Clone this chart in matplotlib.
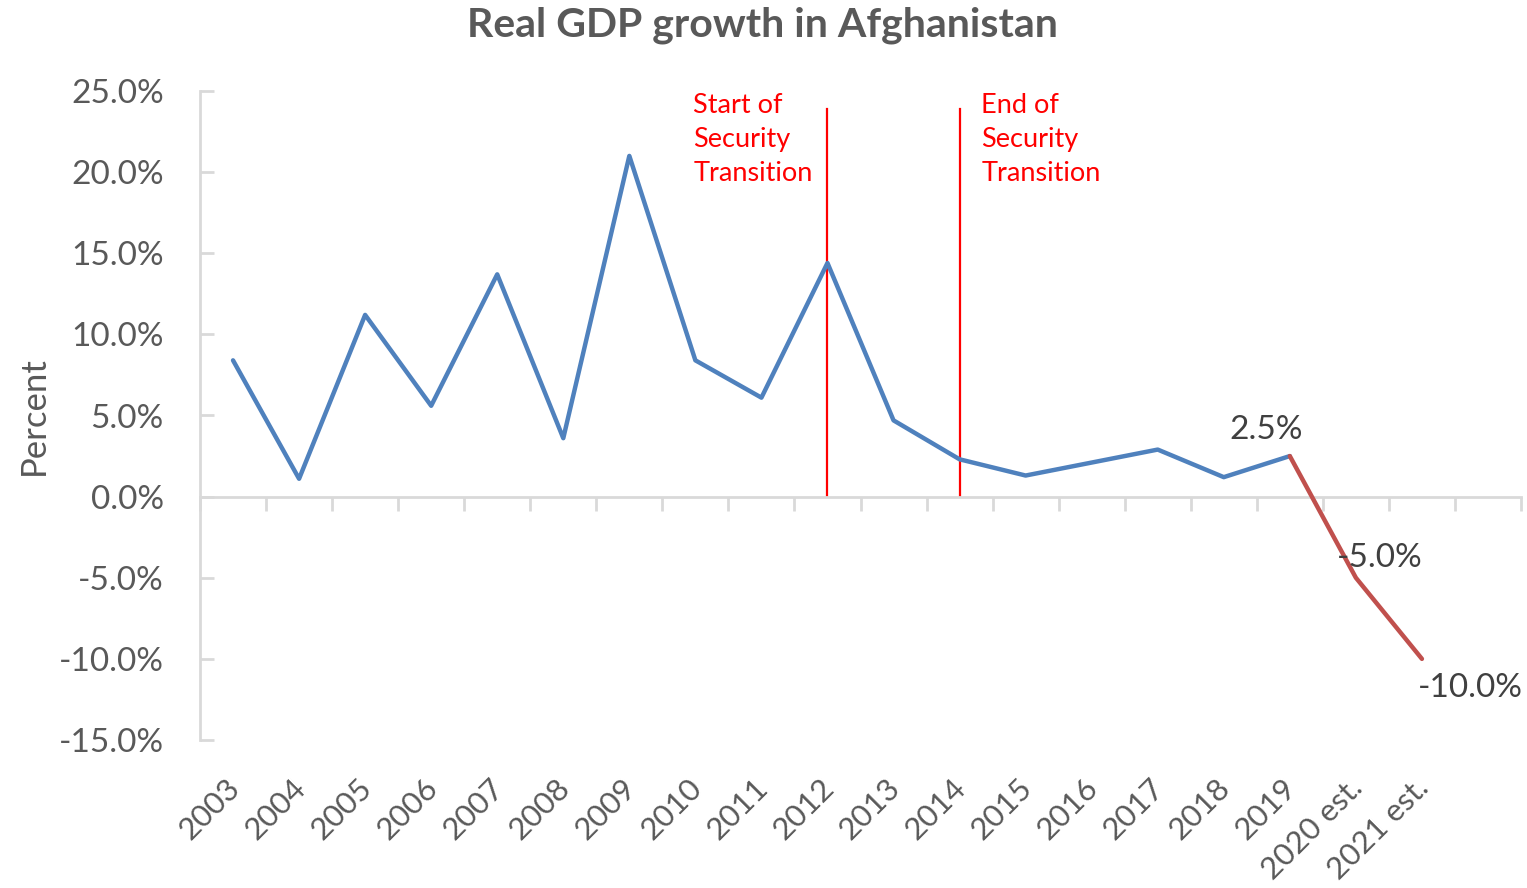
import matplotlib.pyplot as plt
import matplotlib.transforms as mtransforms

plt.rcParams['font.family'] = ['Lato', 'DejaVu Sans']

# data
years = ['2003', '2004', '2005', '2006', '2007', '2008', '2009', '2010', '2011',
         '2012', '2013', '2014', '2015', '2016', '2017', '2018', '2019',
         '2020 est.', '2021 est.']
growth = [8.4, 1.1, 11.2, 5.6, 13.7, 3.6, 21.0, 8.4, 6.1,
          14.4, 4.7, 2.3, 1.3, 2.1, 2.9, 1.2, 2.5]
est_years = ['2019', '2020 est.', '2021 est.']
est_growth = [2.5, -5.0, -10.0]
y_ticks = [-15, -10, -5, 0, 5, 10, 15, 20, 25]

transition_years = ['2012', '2014']
transition_labels = ['Start of\nSecurity\nTransition', 'End of\nSecurity\nTransition']
line_span = [0.1, 23.9]

blue = '#4F81BD'
red = '#C0504D'
grey = '#595959'
axis_grey = '#D9D9D9'

fig = plt.figure(figsize=(15.27, 8.88), dpi=100)
ax = fig.add_axes([200 / 1527, 1 - 740 / 888, 1321 / 1527, 649 / 888])

pos = {y: i for i, y in enumerate(years)}
ax.plot([pos[y] for y in years[:len(growth)]], growth, color=blue, lw=3.2,
        solid_joinstyle='round', solid_capstyle='round', zorder=3)
ax.plot([pos[y] for y in est_years], est_growth, color=red, lw=3.2,
        solid_joinstyle='round', solid_capstyle='round', zorder=3)

# data labels
offsets = [(-17, 19), (17, 14), (35, -21)]
for y, v, off in zip(est_years, est_growth, offsets):
    ax.annotate(f'{v:.1f}%', (pos[y], v), xytext=off, textcoords='offset points',
                ha='center', va='center', fontsize=24, color='#404040', zorder=4)

# security transition markers
for y in transition_years:
    x = pos[y]
    ax.plot([x, x], line_span, color='red', lw=1.6, zorder=2)
ax.text(pos['2012'] - 2.03, 24.9, transition_labels[0], color='red', fontsize=19.5,
        va='top', ha='left', linespacing=1.45)
ax.text(pos['2014'] + 0.33, 24.9, transition_labels[1], color='red', fontsize=19.5,
        va='top', ha='left', linespacing=1.45)

ax.set_xlim(-0.5, len(years) + 0.5)
ax.set_ylim(-15, 25)
ax.set_yticks(y_ticks)
ax.set_yticklabels([f'{t:.1f}%' for t in y_ticks])
ax.set_xticks(range(len(years)))
ax.set_xticklabels(years, rotation=45, ha='right', va='top', rotation_mode='anchor')
ax.tick_params(axis='x', length=0, pad=24, labelsize=22.5, labelcolor=grey)
shift = mtransforms.ScaledTranslation(-8 / 100, 0, fig.dpi_scale_trans)
for lbl in ax.get_xticklabels():
    lbl.set_transform(lbl.get_transform() + shift)
ax.tick_params(axis='y', length=10, width=2, color=axis_grey, direction='in',
               labelsize=24, labelcolor=grey, pad=26)

for s in ['top', 'right', 'bottom']:
    ax.spines[s].set_visible(False)
ax.spines['left'].set_color(axis_grey)
ax.spines['left'].set_linewidth(2)

# category axis drawn at zero with ticks between categories
zero_frac = (0 - y_ticks[0]) / (y_ticks[-1] - y_ticks[0])
cat_axis = ax.secondary_xaxis(zero_frac)
cat_axis.set_xticks([i - 0.5 for i in range(len(years) + 2)])
cat_axis.tick_params(length=10, width=2, color=axis_grey, direction='out',
                     labelbottom=False)
cat_axis.spines['bottom'].set_color(axis_grey)
cat_axis.spines['bottom'].set_linewidth(2)

ax.set_ylabel('Percent', fontsize=25, color=grey)
ax.yaxis.set_label_coords(-0.114, 0.5)
fig.text(762 / 1527, 1 - 25 / 888, 'Real GDP growth in Afghanistan', ha='center',
         va='center', fontsize=29.5, fontweight='bold', color=grey)

fig.savefig('out.png', dpi=100)
